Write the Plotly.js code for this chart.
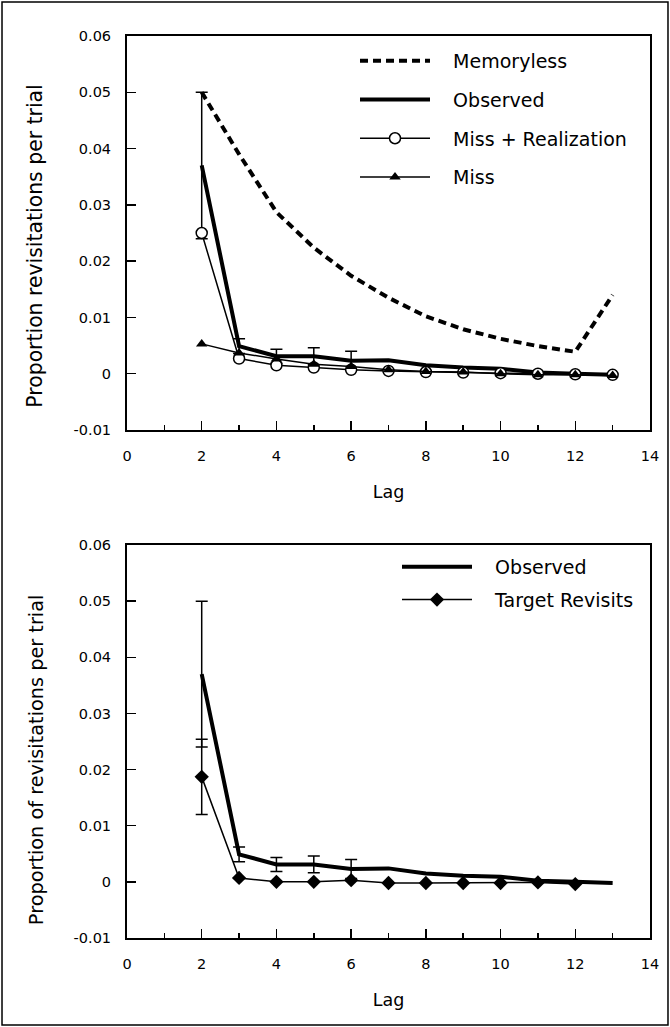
<!DOCTYPE html>
<html><head><meta charset="utf-8">
<script src="https://cdn.plot.ly/plotly-3.0.1.min.js"></script>
<style>html,body{margin:0;padding:0;background:#fff}#chart{width:670px;height:1027px}</style>
</head><body><div id="chart"></div>
<script>
const lags = [2,3,4,5,6,7,8,9,10,11,12,13];
const memoryless = [0.050,0.039,0.0287,0.0224,0.0174,0.0135,0.0102,0.0079,0.0062,0.0049,0.0039,0.0140];
const observed = [0.037,0.0049,0.0031,0.0031,0.0023,0.0024,0.0015,0.0011,0.0009,0.0002,0.0000,-0.0002];
const observedErr = [0.013,0.0013,0.00125,0.0015,0.0017];
const missRealization = [0.025,0.0027,0.0015,0.0011,0.0007,0.0005,0.0003,0.0002,0.0001,0.0000,-0.0001,-0.0002];
const miss = [0.0053,0.0037,0.0026,0.0017,0.0013,0.0007,0.0004,0.0003,0.0000,-0.0002,-0.0002,-0.0003];
const targetLags = [2,3,4,5,6,7,8,9,10,11,12];
const targetRevisits = [0.0187,0.0007,0.0000,0.0000,0.0003,-0.0002,-0.0002,-0.0002,-0.0002,-0.0001,-0.0004];
const targetErr = [0.0067];
const yTicks = [-0.01,0,0.01,0.02,0.03,0.04,0.05,0.06];
const yTickText = ['-0.01','0','0.01','0.02','0.03','0.04','0.05','0.06'];
const xTicks = [0,2,4,6,8,10,12,14];
const xTickText = ['0','2','4','6','8','10','12','14'];
const seriesNames = ['Memoryless','Observed','Miss + Realization','Miss','Target Revisits'];
const yTitles = ['Proportion revisitations per trial','Proportion of revisitations per trial'];

const FONT = '"DejaVu Sans", Lato, sans-serif';
const NB = (n)=>'\u00a0'.repeat(n);
const PAD = NB(3);
const thin = {color:'black', width:1.5};
const errStyle = (arr)=>({type:'data', array:arr, visible:true, color:'black', thickness:1.5, width:6});

const traces = [
  {x:lags, y:memoryless, name:PAD+seriesNames[0], legendgroup:'a', mode:'lines', line:{color:'black', width:4, dash:'8px,5px'}, xaxis:'x', yaxis:'y', legend:'legend'},
  {x:lags, y:observed, name:PAD+seriesNames[1], legendgroup:'b', mode:'lines', line:{color:'black', width:4}, error_y:errStyle(observedErr), xaxis:'x', yaxis:'y', legend:'legend'},
  {x:lags, y:missRealization, name:PAD+seriesNames[2], legendgroup:'c', mode:'lines+markers', line:thin, marker:{symbol:'circle', size:11, color:'white', line:{color:'black', width:1.5}}, xaxis:'x', yaxis:'y', legend:'legend'},
  {x:lags, y:miss, name:PAD+seriesNames[3], legendgroup:'d', mode:'lines+markers', line:thin, marker:{symbol:'triangle-up', size:10, color:'black'}, xaxis:'x', yaxis:'y', legend:'legend'},
  {x:lags, y:observed, name:PAD+seriesNames[1], legendgroup:'e', mode:'lines', line:{color:'black', width:4}, error_y:errStyle(observedErr), xaxis:'x2', yaxis:'y2', legend:'legend2'},
  {x:targetLags, y:targetRevisits, name:PAD+seriesNames[4], legendgroup:'f', mode:'lines+markers', line:thin, marker:{symbol:'diamond', size:11, color:'black'}, error_y:errStyle(targetErr), xaxis:'x2', yaxis:'y2', legend:'legend2'}
];

const xax = (anchor)=>({
  domain:[127/670, 650/670], anchor:anchor, range:[0,14], tickvals:xTicks, ticktext:xTickText,
  ticks:'inside', ticklen:9, tickwidth:1.5, tickcolor:'black',
  minor:{tickvals:[1,3,5,7,9,11,13], ticks:'inside', ticklen:5, tickwidth:1.5, tickcolor:'black'},
  showline:true, linecolor:'black', linewidth:2, mirror:true, showgrid:false, zeroline:false,
  tickfont:{family:FONT, size:14.5, color:'black'}, ticklabelstandoff:12,
  title:{text:'Lag', font:{family:FONT, size:17.5, color:'black'}, standoff:22}
});
const yax = (anchor, dom, title, size)=>({
  domain:dom, anchor:anchor, range:[-0.01,0.06], tickvals:yTicks, ticktext:yTickText,
  ticks:'inside', ticklen:9, tickwidth:1.5, tickcolor:'black',
  showline:true, linecolor:'black', linewidth:2, mirror:true, showgrid:false, zeroline:false,
  tickfont:{family:FONT, size:14.5, color:'black'}, ticklabelstandoff:11,
  title:{text:title, font:{family:FONT, size:size, color:'black'}, standoff:25}
});

const layout = {
  width:670, height:1027, margin:{l:0,r:0,t:0,b:0}, paper_bgcolor:'white', plot_bgcolor:'white',
  showlegend:true, font:{family:FONT, color:'black'},
  xaxis:xax('y'), yaxis:yax('x',[1-430/1027, 1-36/1027], yTitles[0]+NB(4)+'\u200b', 20.4),
  xaxis2:xax('y2'), yaxis2:yax('x2',[1-938/1027, 1-545/1027], yTitles[1]+NB(6)+'\u200b', 19.3),
  legend:{x:355/670, y:1-42/1027, xanchor:'left', yanchor:'top', bgcolor:'rgba(0,0,0,0)', itemwidth:70, font:{family:FONT,size:19,color:'black'}, tracegroupgap:11, traceorder:'grouped'},
  legend2:{x:397/670, y:1-548/1027, xanchor:'left', yanchor:'top', bgcolor:'rgba(0,0,0,0)', itemwidth:70, font:{family:FONT,size:19,color:'black'}, tracegroupgap:5, traceorder:'grouped'},
  shapes:[{type:'rect', xref:'paper', yref:'paper', x0:0.003, x1:0.997, y0:0.002, y1:0.998, line:{color:'black', width:1.5}}]
};
Plotly.newPlot('chart', traces, layout, {displayModeBar:false, staticPlot:true});
</script></body></html>
